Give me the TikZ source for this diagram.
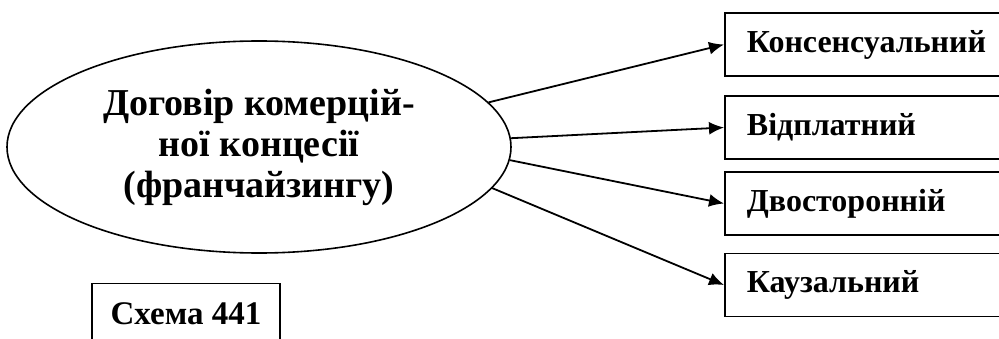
\documentclass[tikz,border=0pt]{standalone}
\usepackage{fontspec}
\setmainfont{Liberation Serif}
\usetikzlibrary{arrows.meta,shapes.geometric}

\begin{document}
\begin{tikzpicture}[x=1pt,y=1pt,
    kind/.style={draw,line width=1.8pt,anchor=west,minimum height=63pt,
      text width=256pt,inner xsep=22pt,align=left,
      font=\bfseries\fontsize{32}{35}\selectfont},
    link/.style={-{Latex[length=15pt,width=13pt]},line width=1.8pt}]
  \clip (0,0) rectangle (999,338);

  \node[ellipse,draw,line width=1.6pt,minimum width=504pt,minimum height=212pt,
        inner sep=0pt,align=center,font=\bfseries\fontsize{38}{41}\selectfont]
    (contract) at (259,191) {Договір комерцій-\\ної концесії\\(франчайзингу)};

  \node[kind] (consensual) at (724,293.5) {Консенсуальний};
  \node[kind] (onerous)    at (724,210.5) {Відплатний};
  \node[kind] (bilateral)  at (724,134.5) {Двосторонній};
  \node[kind] (causal)     at (724,53)    {Каузальний};

  \node[draw,line width=1.8pt,minimum width=188pt,minimum height=60pt,
        font=\bfseries\fontsize{33}{36}\selectfont]
    (scheme) at (186,24.5) {Схема 441};

  \draw[link] (contract.11)  -- (consensual.west);
  \draw[link] (contract.2)   -- (onerous.west);
  \draw[link] (contract.-3)  -- (bilateral.west);
  \draw[link] (contract.-10) -- (causal.west);
\end{tikzpicture}
\end{document}
